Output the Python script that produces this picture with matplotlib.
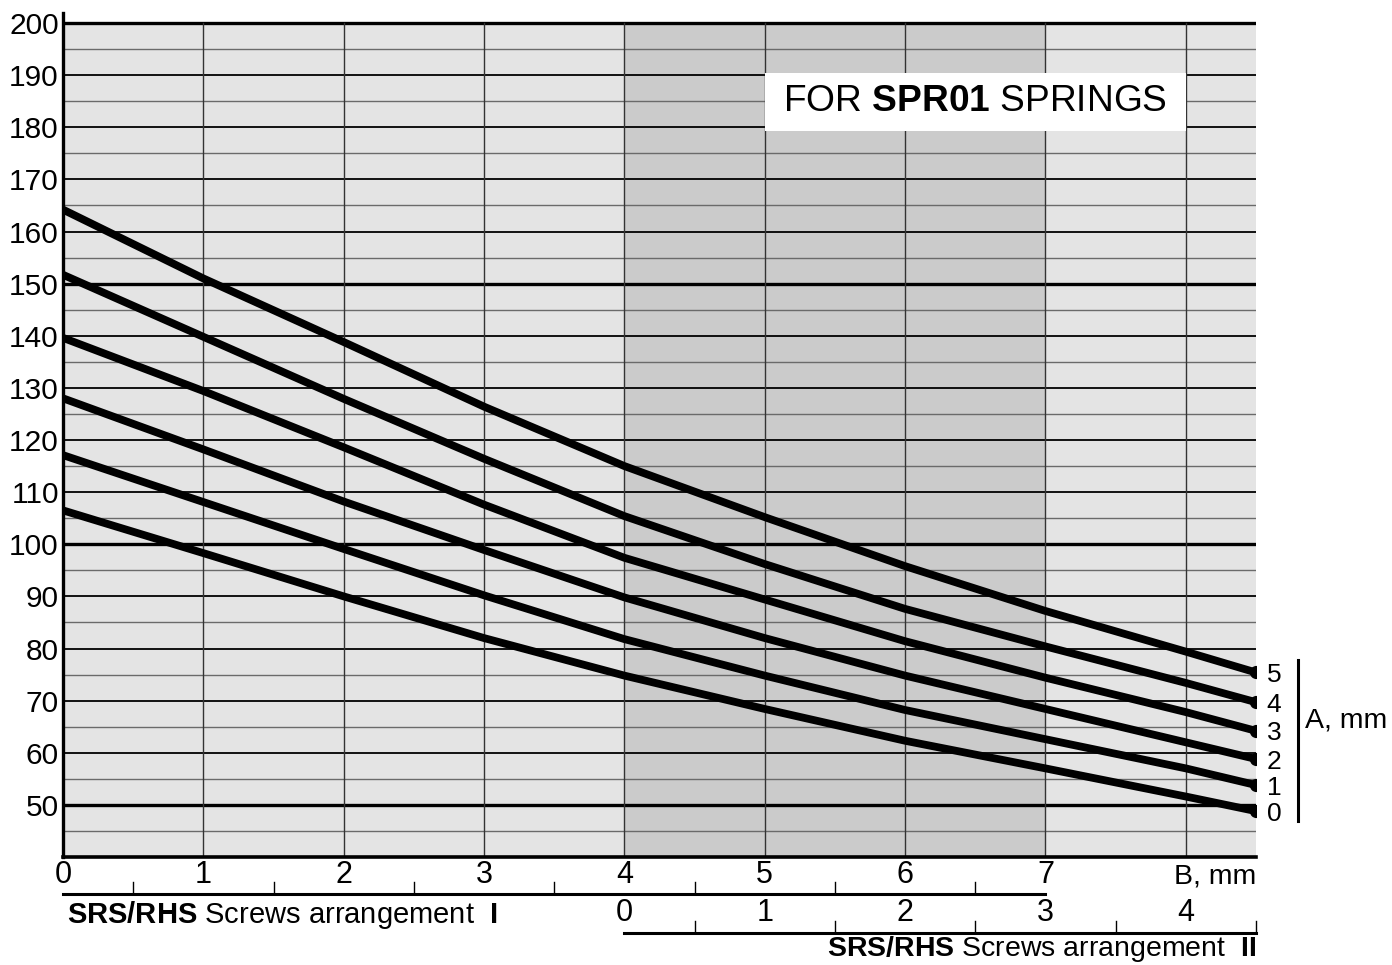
import numpy as np
import matplotlib
matplotlib.use("Agg")
import matplotlib.pyplot as plt

plt.rcParams['font.family'] = ['Liberation Sans', 'DejaVu Sans']
plt.rcParams['mathtext.fontset'] = 'custom'
plt.rcParams['mathtext.rm'] = 'Liberation Sans'
plt.rcParams['mathtext.bf'] = 'Liberation Sans:bold'

# B, mm positions where the curves were read
b_mm = [0, 1, 2, 3, 4, 5, 6, 7, 8, 8.5]
# force curves for each A, mm
curves = {
    0: [106.5, 98.3, 90.0, 82.0, 74.8, 68.4, 62.3, 57.0, 51.6, 48.8],
    1: [117.1, 108.1, 99.1, 90.2, 81.8, 74.8, 68.2, 62.6, 57.0, 53.8],
    2: [128.0, 118.2, 108.2, 98.9, 89.8, 82.0, 74.8, 68.4, 62.0, 58.8],
    3: [139.6, 129.4, 118.6, 107.6, 97.4, 89.4, 81.4, 74.4, 67.8, 64.2],
    4: [151.7, 139.8, 127.9, 116.4, 105.4, 96.2, 87.6, 80.4, 73.4, 69.7],
    5: [164.2, 151.0, 138.8, 126.4, 115.0, 105.2, 95.8, 87.2, 79.4, 75.4],
}
b_ticks = [0, 1, 2, 3, 4, 5, 6, 7]
scale2_labels = ['0', '1', '2', '3', '4']
y_ticks = list(range(50, 201, 10))

light = '#e4e4e4'
dark = '#cbcbcb'

fig = plt.figure(figsize=(13.92, 9.65), dpi=100)
ax = fig.add_axes([63 / 1392, 1 - 857 / 965, (1256 - 63) / 1392, (857 - 12.6) / 965])
ax.set_xlim(0, 8.5)
ax.set_ylim(40, 202)

# background bands
ax.fill_between([0, 8.5], 40, 200, color=light, lw=0, zorder=0)
ax.fill_between([4, 7], 40, 200, color=dark, lw=0, zorder=0)

# grid
for y in np.arange(45, 200, 10):
    ax.plot([0, 8.5], [y, y], color='#6a6a6a', lw=1.0, zorder=1)
for y in np.arange(60, 200, 10):
    if y % 50:
        ax.plot([0, 8.5], [y, y], color='black', lw=1.3, zorder=1)
for y in [50, 100, 150, 200]:
    ax.plot([0, 8.5], [y, y], color='black', lw=2.4, zorder=1)
for x in range(1, 9):
    ax.plot([x, x], [40, 200], color='#333333', lw=1.0, zorder=1)

# label box
ax.fill_between([5, 8], 179.3, 190.4, color='white', lw=0, zorder=2)
ax.text(6.5, 184.9, r'FOR $\mathbf{SPR01}$ SPRINGS', fontsize=26.7,
        ha='center', va='center', zorder=3)

# curves
for a, vals in curves.items():
    ax.plot(b_mm, vals, color='black', lw=5.6, solid_capstyle='butt',
            solid_joinstyle='round', zorder=4)
    ax.plot(b_mm[-1], vals[-1], 'o', color='black', ms=8.5, zorder=4)
    ax.text(8.575, vals[-1] - 0.5, str(a), fontsize=19, ha='left', va='center',
            clip_on=False)
ax.plot([8.8, 8.8], [46.9, 77.7], color='black', lw=2.2, clip_on=False)
ax.text(8.85, 66.2, 'A, mm', fontsize=20.5, ha='left', va='center')

# axes styling
for s in ['top', 'right']:
    ax.spines[s].set_visible(False)
ax.spines['left'].set_linewidth(2.4)
ax.spines['bottom'].set_linewidth(2.6)
ax.set_yticks(y_ticks)
ax.set_yticklabels([str(v) for v in y_ticks], fontsize=21.5)
ax.set_xticks(b_ticks)
ax.set_xticklabels([str(v) for v in b_ticks], fontsize=22)
ax.tick_params(axis='y', length=0, pad=3)
ax.tick_params(axis='x', length=0, pad=2)
ax.text(8.5, 36.2, 'B, mm', fontsize=20.5, ha='right', va='center')

# screws arrangement I scale
ax.plot([0, 7], [32.9, 32.9], color='black', lw=2.2, clip_on=False)
for x in np.arange(0.5, 7, 1):
    ax.plot([x, x], [32.9, 35.2], color='black', lw=1.0, clip_on=False)
ax.text(0.03, 28.8, r'$\mathbf{SRS/RHS}$ Screws arrangement  $\mathbf{I}$',
        fontsize=21, ha='left', va='center')

# screws arrangement II scale
ax.plot([4, 8.5], [25.4, 25.4], color='black', lw=2.2, clip_on=False)
for x in np.arange(4.5, 8.6, 1):
    ax.plot([x, x], [25.4, 27.7], color='black', lw=1.0, clip_on=False)
for i, lab in enumerate(scale2_labels):
    ax.text(4 + i, 29.3, lab, fontsize=22, ha='center', va='center')
ax.text(8.5, 22.3, r'$\mathbf{SRS/RHS}$ Screws arrangement  $\mathbf{II}$',
        fontsize=20.5, ha='right', va='center')

fig.savefig('out.png', dpi=100)
